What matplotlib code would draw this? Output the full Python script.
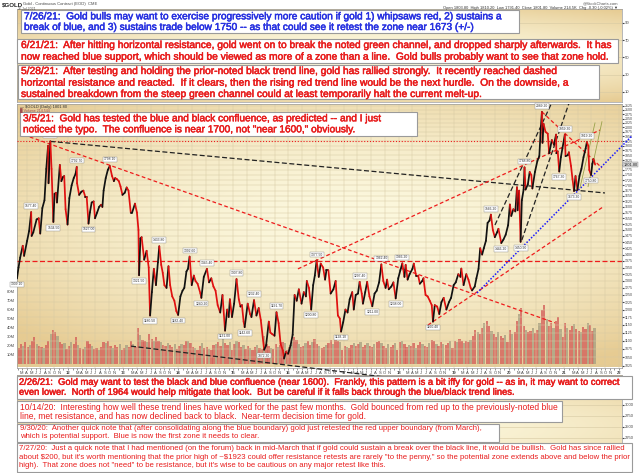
import numpy as np
import pandas as pd
import matplotlib
matplotlib.use("Agg")
import matplotlib.pyplot as plt
import matplotlib.dates as mdates
import matplotlib.patheffects as pe
from matplotlib.collections import LineCollection
from matplotlib.patches import Rectangle
from matplotlib.ticker import FixedLocator, NullLocator

plt.rcParams['font.family'] = ['Liberation Sans', 'DejaVu Sans']

# ------------------------------------------------------------------ data
gold_2011 = [("01-28", 1309), ("02-07", 1350), ("02-18", 1388), ("03-07", 1435), ("03-16", 1395),
             ("04-05", 1455), ("04-18", 1495), ("05-02", 1577), ("05-05", 1475), ("05-16", 1490),
             ("06-07", 1545), ("06-21", 1550), ("07-01", 1485), ("07-15", 1595), ("07-29", 1630),
             ("08-10", 1780), ("08-22", 1900), ("08-25", 1710), ("09-06", 1923), ("09-14", 1780),
             ("09-26", 1534), ("10-04", 1660), ("10-13", 1665), ("10-20", 1620), ("11-08", 1800),
             ("11-18", 1720), ("11-29", 1740), ("12-07", 1745), ("12-16", 1590), ("12-29", 1523)]
gold_2012 = [("01-10", 1640), ("01-25", 1700), ("02-08", 1735), ("02-20", 1755), ("02-28", 1790),
             ("03-01", 1710), ("03-15", 1655), ("03-30", 1670), ("04-12", 1675), ("04-25", 1645),
             ("05-04", 1645), ("05-16", 1527), ("05-25", 1575), ("06-06", 1620), ("06-19", 1625),
             ("06-28", 1550), ("07-12", 1575), ("07-25", 1600), ("08-07", 1610), ("08-16", 1600),
             ("08-24", 1675), ("09-07", 1735), ("09-21", 1775), ("10-04", 1795), ("10-19", 1745),
             ("10-31", 1720), ("11-09", 1735), ("11-20", 1730), ("12-03", 1720), ("12-14", 1695),
             ("12-27", 1655)]
gold_2013 = [("01-11", 1665), ("01-24", 1690), ("02-05", 1675), ("02-20", 1575), ("03-01", 1575),
             ("03-20", 1615), ("04-02", 1575), ("04-12", 1500), ("04-16", 1321), ("04-25", 1465),
             ("05-03", 1470), ("05-20", 1380), ("06-05", 1415), ("06-19", 1350), ("06-28", 1180),
             ("07-10", 1260), ("07-23", 1345), ("08-06", 1285), ("08-19", 1370), ("08-28", 1433),
             ("09-10", 1360), ("09-20", 1330), ("10-01", 1285), ("10-15", 1275), ("10-28", 1355),
             ("11-08", 1285), ("11-22", 1245), ("12-06", 1230), ("12-19", 1195), ("12-31", 1182)]
gold_2014 = [("01-15", 1245), ("01-29", 1265), ("02-10", 1275), ("02-24", 1335), ("03-06", 1345),
             ("03-17", 1392), ("03-31", 1285), ("04-14", 1320), ("04-25", 1300), ("05-09", 1290),
             ("05-28", 1255), ("06-03", 1240), ("06-19", 1315), ("07-10", 1345), ("07-24", 1295),
             ("08-08", 1310), ("08-22", 1280), ("09-05", 1265), ("09-19", 1215), ("10-06", 1190),
             ("10-21", 1250), ("11-07", 1131), ("11-21", 1200), ("12-01", 1175), ("12-09", 1235),
             ("12-23", 1175)]
gold_2015 = [("01-06", 1220), ("01-22", 1307), ("02-06", 1235), ("02-17", 1210), ("02-27", 1215),
             ("03-10", 1160), ("03-17", 1142), ("04-06", 1220), ("04-22", 1185), ("05-01", 1175),
             ("05-18", 1232), ("06-03", 1180), ("06-18", 1205), ("07-02", 1165), ("07-24", 1072),
             ("08-06", 1085), ("08-24", 1160), ("09-03", 1125), ("09-16", 1120), ("10-01", 1115),
             ("10-14", 1191), ("10-28", 1155), ("11-10", 1090), ("11-25", 1070), ("12-03", 1046),
             ("12-15", 1065), ("12-30", 1060)]
gold_2016 = [("01-15", 1085), ("01-29", 1118), ("02-11", 1250), ("02-25", 1230), ("03-10", 1270),
             ("03-28", 1220), ("04-12", 1260), ("04-26", 1245), ("05-02", 1300), ("05-16", 1275),
             ("05-31", 1200), ("06-13", 1285), ("06-24", 1320), ("07-06", 1377), ("07-20", 1315),
             ("08-02", 1365), ("08-18", 1350), ("08-31", 1305), ("09-09", 1340), ("09-22", 1340),
             ("10-07", 1255), ("10-25", 1270), ("11-09", 1300), ("11-24", 1180), ("12-07", 1170),
             ("12-15", 1128), ("12-29", 1158)]
gold_2017 = [("01-13", 1200), ("01-27", 1190), ("02-10", 1235), ("02-27", 1260), ("03-09", 1200),
             ("03-22", 1250), ("04-06", 1255), ("04-17", 1297), ("05-01", 1255), ("05-09", 1220),
             ("05-24", 1260), ("06-06", 1297), ("06-21", 1245), ("07-10", 1211), ("07-25", 1255),
             ("08-08", 1265), ("08-24", 1295), ("09-08", 1362), ("09-21", 1300), ("10-06", 1275),
             ("10-16", 1305), ("10-27", 1270), ("11-13", 1280), ("11-27", 1295), ("12-12", 1238),
             ("12-29", 1310)]
gold_2018 = [("01-12", 1340), ("01-25", 1366), ("02-08", 1315), ("02-16", 1360), ("03-01", 1305),
             ("03-14", 1325), ("04-02", 1345), ("04-11", 1365), ("04-26", 1320), ("05-10", 1320),
             ("05-21", 1290), ("06-06", 1300), ("06-14", 1310), ("06-28", 1250), ("07-12", 1245),
             ("07-26", 1230), ("08-08", 1215), ("08-16", 1160), ("08-28", 1215), ("09-13", 1210),
             ("09-27", 1185), ("10-11", 1225), ("10-26", 1240), ("11-13", 1200), ("11-30", 1225),
             ("12-14", 1240), ("12-31", 1285)]
gold_2019 = [("01-14", 1295), ("01-31", 1325), ("02-14", 1315), ("02-20", 1346), ("03-07", 1285),
             ("03-25", 1325), ("04-08", 1305), ("04-23", 1275), ("05-02", 1266), ("05-20", 1280),
             ("05-31", 1310), ("06-14", 1345), ("06-25", 1425), ("07-08", 1400), ("07-19", 1425),
             ("08-02", 1455), ("08-13", 1530), ("08-26", 1540), ("09-04", 1566), ("09-17", 1500),
             ("09-30", 1470), ("10-15", 1490), ("10-24", 1505), ("11-12", 1446), ("11-26", 1460),
             ("12-11", 1480), ("12-27", 1520)]
gold_2020 = [("01-08", 1611), ("01-17", 1560), ("01-31", 1590), ("02-13", 1580), ("02-24", 1691),
             ("02-28", 1585), ("03-09", 1675), ("03-19", 1451), ("03-27", 1630), ("04-08", 1680),
             ("04-14", 1788), ("04-21", 1680), ("05-06", 1705), ("05-18", 1765), ("05-29", 1750),
             ("06-05", 1685), ("06-22", 1765), ("07-08", 1820), ("07-21", 1845), ("07-29", 1970),
             ("08-07", 2089), ("08-11", 1915), ("08-18", 2020), ("08-31", 1975), ("09-15", 1965),
             ("09-24", 1860), ("10-12", 1930), ("10-26", 1905), ("11-09", 1960), ("11-11", 1860),
             ("11-20", 1870), ("11-30", 1767), ("12-11", 1840), ("12-21", 1885)]
gold_2021 = [("01-06", 1959), ("01-11", 1845), ("01-26", 1850), ("02-02", 1865), ("02-16", 1795),
             ("02-26", 1730), ("03-08", 1673), ("03-18", 1745), ("03-31", 1680), ("04-13", 1745),
             ("04-26", 1780), ("05-10", 1840), ("05-24", 1885), ("06-01", 1919), ("06-10", 1900),
             ("06-17", 1775), ("06-29", 1750), ("07-07", 1805), ("07-15", 1830), ("07-26", 1801.8)]

# semi-monthly volume (millions), starting Feb 2011
volume_2011 = [18, 22, 20, 24, 19, 21, 25, 30, 22, 20, 19, 18, 21, 26, 33, 38, 36, 31, 24, 22, 23, 17]
volume_2012 = [20, 24, 22, 30, 21, 18, 17, 19, 26, 22, 20, 17, 18, 16, 19, 24, 23, 25, 20, 18, 21, 19, 22, 15]
volume_2013 = [18, 21, 19, 26, 22, 19, 40, 32, 27, 25, 24, 33, 28, 26, 30, 25, 24, 21, 20, 23, 21, 19, 22, 17]
volume_2014 = [20, 22, 21, 25, 26, 23, 19, 18, 16, 20, 23, 18, 19, 17, 16, 21, 22, 24, 20, 28, 23, 21, 24, 15]
volume_2015 = [22, 26, 24, 19, 21, 17, 20, 18, 16, 19, 21, 18, 17, 31, 22, 20, 18, 17, 22, 19, 21, 24, 23, 15]
volume_2016 = [19, 24, 30, 27, 22, 19, 20, 23, 25, 21, 24, 28, 22, 20, 18, 19, 21, 23, 27, 22, 30, 26, 24, 16]
volume_2017 = [20, 19, 18, 21, 23, 20, 22, 24, 19, 21, 23, 20, 19, 22, 24, 26, 23, 20, 18, 22, 19, 21, 23, 16]
volume_2018 = [24, 26, 22, 19, 21, 20, 23, 18, 21, 24, 22, 20, 19, 23, 27, 25, 22, 20, 24, 22, 21, 23, 25, 18]
volume_2019 = [26, 24, 28, 25, 23, 26, 24, 27, 31, 38, 35, 33, 40, 45, 48, 42, 37, 33, 30, 35, 31, 29, 32, 24]
volume_2020 = [38, 33, 36, 48, 55, 62, 42, 38, 35, 37, 40, 34, 38, 45, 60, 65, 50, 42, 45, 40, 48, 52, 39, 30]
volume_2021 = [45, 40, 38, 42, 44, 39, 37, 35, 41, 39, 46, 43, 37, 40]

swing_dates = ["2011-01-28", "2011-05-02", "2011-09-06", "2011-09-26", "2012-02-28", "2012-05-16",
               "2012-10-04", "2013-04-16", "2013-06-28", "2013-08-28", "2013-12-31", "2014-03-17",
               "2014-06-03", "2014-07-10", "2014-11-07", "2015-01-22", "2015-03-17", "2015-05-18",
               "2015-07-24", "2015-10-14", "2016-05-31", "2016-07-06", "2016-12-15", "2017-04-17",
               "2017-07-10", "2017-09-08", "2017-12-12", "2018-01-25", "2018-08-16", "2019-09-04",
               "2019-11-12", "2020-03-19", "2020-04-14", "2020-08-07", "2020-11-30", "2021-01-06",
               "2021-03-08", "2021-06-01", "2021-06-29"]
swing_values = [1309.10, 1577.40, 1923.70, 1534.50, 1792.70, 1527.00, 1798.10, 1321.50, 1180.50,
                1433.80, 1182.40, 1392.60, 1240.20, 1345.40, 1131.00, 1307.80, 1142.60, 1232.40,
                1072.30, 1191.70, 1200.80, 1377.50, 1128.10, 1297.40, 1211.00, 1362.40, 1238.00,
                1366.20, 1160.40, 1566.20, 1446.20, 1450.90, 1788.80, 2089.20, 1767.30, 1959.30,
                1673.30, 1919.20, 1750.80]
swing_kinds = ["L", "H", "H", "L", "H", "L", "H", "L", "L", "H", "L", "H", "L", "H", "L", "H", "L",
               "H", "L", "H", "L", "H", "L", "H", "L", "H", "L", "H", "L", "H", "L", "L", "H", "H",
               "L", "H", "L", "H", "L"]

# trend lines (date, price)
black_long = [("2011-09-06", 1923), ("2021-09-29", 1664)]
black_low = [("2013-02-22", 1083), ("2018-10-16", 974)]
black_steep_1 = [("2019-10-01", 1521), ("2020-10-20", 2160)]
black_steep_2 = [("2020-03-27", 1458), ("2021-02-10", 2160)]
red_fall_2011 = [("2011-04-23", 1947), ("2020-11-02", 1156)]
red_rise_2016 = [("2016-03-04", 1345), ("2021-08-27", 1985)]
red_fall_2020 = [("2020-08-07", 2089), ("2021-09-09", 1785)]
red_rise_2018 = [("2018-07-14", 1149), ("2021-09-16", 1600)]
blue_support = [("2019-06-04", 1257), ("2022-03-27", 1953)]
green_channel_1 = [("2021-04-16", 1687), ("2021-07-25", 2025)]
green_channel_2 = [("2021-06-09", 1694), ("2021-09-09", 2032)]
resistance_dotted = 1925
resistance_dashed = 1375
last_price = 1801.80

price_ticks = list(range(1025, 2126, 25))
volume_ticks = [10, 20, 30, 40, 50, 60, 70, 80]
upper_ticks = [10, 30, 50, 70, 90]
lower_ticks = [2250, 2500, 2750, 3000]
month_letters = ["", "", "M", "A", "M", "J", "J", "A", "S", "O", "N", ""]

note_0726 = ["7/26/21:  Gold bulls may want to exercise progressively more caution if gold 1) whipsaws red, 2) sustains a",
             "break of blue, and 3) sustains trade below 1750 -- as that could see it retest the zone near 1673 (+/-)"]
note_0621 = ["6/21/21:  After hitting horizontal resistance, gold went on to break the noted green channel, and dropped sharply afterwards.  It has",
             "now reached blue support, which should be viewed as more of a zone than a line.  Gold bulls probably want to see that zone hold."]
note_0528 = ["5/28/21:  After testing and holding the prior-noted black trend line, gold has rallied strongly.  It recently reached dashed",
             "horizontal resistance and reacted.  If it clears, then the rising red trend line would be the next hurdle.  On the downside, a",
             "sustained breakdown from the steep green channel could at least temporarily halt the current melt-up."]
note_0305 = ["3/5/21:  Gold has tested the blue and black confluence, as predicted -- and I just",
             "noticed the typo.  The confluence is near 1700, not \"near 1600,\" obviously."]
note_0226 = ["2/26/21:  Gold may want to test the black and blue confluence (near 1600).  Frankly, this pattern is a bit iffy for gold -- as in, it may want to correct",
             "even lower.  North of 1964 would help mitigate that look.  But be careful if it falls back through the blue/black trend lines."]
note_1014 = ["10/14/20:  Interesting how well these trend lines have worked for the past few months.  Gold bounced from red up to the previously-noted blue",
             "line, met resistance, and has now declined back to black.  Near-term decision time for gold."]
note_0930 = ["9/30/20:  Another quick note that (after consolidating along the blue boundary) gold just retested the red upper boundary (from March),",
             "which is potential support.  Blue is now the first zone it needs to clear."]
note_0727 = ["7/27/20:  Just a quick note that I had mentioned (on the forum) back in mid-March that if gold could sustain a break over the black line, it would be bullish.  Gold has since rallied",
             "about $200, but it's worth mentioning that the prior high of ~$1923 could offer resistance retests are rarely \"to the penny,\" so the potential zone extends above and below the prior",
             "high).  That zone does not \"need\" to be resistance, but it's wise to be cautious on any major retest like this."]

# ------------------------------------------------------------------ layout helpers
W, H, DPI = 640, 473, 100
fig = plt.figure(figsize=(W / DPI, H / DPI), dpi=DPI)
fig.patch.set_facecolor("white")


def rect_px(l, t, r, b):
    return [l / W, 1 - b / H, (r - l) / W, (b - t) / H]


def gradient_bg(pos, cy=0.5):
    bg = fig.add_axes(pos, zorder=0)
    nx, ny = 240, 160
    X, Y = np.meshgrid(np.linspace(0, 1, nx), np.linspace(0, 1, ny))
    t = np.clip(((X - 0.55) / 0.75) ** 2 + ((Y - cy) / 0.62) ** 2, 0, 1) ** 0.9
    light = np.array([252, 248, 222]) / 255.0
    dark = np.array([230, 203, 146]) / 255.0
    img = light * (1 - t[..., None]) + dark * t[..., None]
    bg.imshow(img, extent=[0, 1, 0, 1], origin="lower", aspect="auto")
    bg.set_xlim(0, 1)
    bg.set_ylim(0, 1)
    bg.axis("off")
    return bg


def dnum(s):
    return mdates.date2num(pd.Timestamp(s))


x0, x1 = dnum("2011-01-28"), dnum("2022-01-20")
SMALL = 3.0
GRIDC = (0.84, 0.79, 0.64)

# ------------------------------------------------------------------ upper indicator panel
pos_up = rect_px(17, 9, 622, 102)
gradient_bg(pos_up)
axu = fig.add_axes(pos_up, zorder=1)
axu.patch.set_visible(False)
axu.set_xlim(x0, x1)
axu.set_ylim(-1.6, 106.2)
axu.yaxis.tick_right()
axu.set_yticks(upper_ticks)
axu.set_yticklabels([str(v) for v in upper_ticks])
axu.tick_params(axis="y", labelsize=SMALL, length=1.2, pad=1, colors="#444444")
axu.set_xticks([])
axu.grid(axis="y", color=GRIDC, lw=0.4)
for s in axu.spines.values():
    s.set_color("#9a9a9a")
    s.set_linewidth(0.5)

# ------------------------------------------------------------------ price panel
pos_pr = rect_px(17, 104, 622, 367.5)
gradient_bg(pos_pr, cy=0.55)

# volume axes (behind price)
axv = fig.add_axes(pos_pr, zorder=1)
axv.patch.set_visible(False)
volumes = (volume_2011 + volume_2012 + volume_2013 + volume_2014 + volume_2015 + volume_2016
           + volume_2017 + volume_2018 + volume_2019 + volume_2020 + volume_2021)
vdates = mdates.date2num(pd.date_range("2011-02-01", periods=len(volumes), freq="SMS"))
vcols = ["#d4615b" if i % 3 != 2 else "#a9a183" for i in range(len(volumes))]
axv.bar(vdates, volumes, width=15.2, align="edge", color=vcols, alpha=0.8, linewidth=0)
axv.set_xlim(x0, x1)
axv.set_ylim(-3.9, 288.9)
axv.set_yticks(volume_ticks)
axv.set_yticklabels([f"{v}M" for v in volume_ticks])
axv.tick_params(axis="y", labelsize=SMALL, length=0, pad=1.5, colors="#444444")
axv.set_xticks([])
for s in axv.spines.values():
    s.set_visible(False)

ax = fig.add_axes(pos_pr, zorder=2)
ax.patch.set_visible(False)
ax.set_yscale("log")
ax.set_xlim(x0, x1)
ax.set_ylim(1020, 2135.5)
ax.yaxis.tick_right()
ax.yaxis.set_major_locator(FixedLocator(price_ticks))
ax.yaxis.set_minor_locator(NullLocator())
ax.set_yticklabels(["" if abs(v - last_price) < 15 else str(v) for v in price_ticks])
ax.tick_params(axis="y", labelsize=2.6, length=1.2, pad=1, colors="#444444")
ax.grid(axis="y", color=GRIDC, lw=0.35, zorder=0)
for s in ax.spines.values():
    s.set_color("#9a9a9a")
    s.set_linewidth(0.5)

months = pd.date_range("2011-02-01", "2022-01-01", freq="MS")
mlabels = [f"{m.year % 100:02d}" if m.month == 1 else month_letters[m.month - 1] for m in months]
ax.set_xticks(mdates.date2num(months))
ax.set_xticklabels(mlabels)
ax.tick_params(axis="x", labelsize=SMALL, length=1.5, pad=0.8, colors="#444444", width=0.4)
for lbl in ax.get_xticklabels():
    if lbl.get_text().isdigit():
        lbl.set_fontweight("bold")
for m in months:
    if m.month in (1, 4, 7, 10):
        ax.axvline(mdates.date2num(m), color=GRIDC, lw=0.35, zorder=0)

# price line
all_dates, prices = [], []
for yr, lst in [(2011, gold_2011), (2012, gold_2012), (2013, gold_2013), (2014, gold_2014),
                (2015, gold_2015), (2016, gold_2016), (2017, gold_2017), (2018, gold_2018),
                (2019, gold_2019), (2020, gold_2020), (2021, gold_2021)]:
    for md, p in lst:
        all_dates.append(f"{yr}-{md}")
        prices.append(p)
pd_num = mdates.date2num(pd.to_datetime(all_dates))
pts = np.column_stack([pd_num, prices])
segs = np.stack([pts[:-1], pts[1:]], axis=1)
scol = ["#111111" if b >= a else "#e01010" for a, b in zip(prices[:-1], prices[1:])]
ax.add_collection(LineCollection(segs, colors=scol, linewidths=1.25, zorder=5,
                                 capstyle="round", joinstyle="round"))

# horizontal levels
ax.axhline(resistance_dotted, color="#ee1c1c", lw=0.8, ls=(0, (1, 1.6)), zorder=3)
ax.axhline(resistance_dashed, color="#ee1c1c", lw=0.9, ls=(0, (4, 2)), zorder=3)


def tline(pts2, color, ls, lw=0.9, clip=True):
    xs = [dnum(d) for d, _ in pts2]
    ys = [p for _, p in pts2]
    ax.plot(xs, ys, color=color, ls=ls, lw=lw, zorder=4, clip_on=clip)


tline(black_long, "#222222", (0, (4, 2)))
tline(black_low, "#222222", (0, (4, 2)), clip=False)
tline(black_steep_1, "#222222", (0, (4, 2)))
tline(black_steep_2, "#222222", (0, (4, 2)))
tline(red_fall_2011, "#ee1c1c", (0, (3, 2)))
tline(red_rise_2016, "#ee1c1c", (0, (3, 2)))
tline(red_fall_2020, "#ee1c1c", (0, (3, 2)))
tline(red_rise_2018, "#ee1c1c", (0, (3, 2)))
tline(blue_support, "#1a1aff", (0, (1, 1.1)), lw=1.1, clip=False)
tline(green_channel_1, "#9aa24a", "-", lw=0.6)
tline(green_channel_2, "#9aa24a", "-", lw=0.6)

# swing labels
for d, v, k in zip(swing_dates, swing_values, swing_kinds):
    off = 4.2 if k == "H" else -4.2
    ax.annotate(f"{v:.2f}", (dnum(d), v), xytext=(0, off), textcoords="offset points",
                ha="center", va="center", fontsize=2.4, color="#333333", zorder=6,
                bbox=dict(boxstyle="square,pad=0.25", fc="white", ec="#8a8a8a", lw=0.3))

# last price tag
ax.annotate(f"{last_price:.2f}", (1.0, last_price), xycoords=("axes fraction", "data"),
            xytext=(1, 0), textcoords="offset points", ha="left", va="center", fontsize=2.8,
            color="#222222", zorder=7, annotation_clip=False,
            bbox=dict(boxstyle="square,pad=0.2", fc="#d8d8d8", ec="#888888", lw=0.3))

# ------------------------------------------------------------------ lower panel
pos_lo = rect_px(17, 375, 622, 480)
gradient_bg(pos_lo)
axl = fig.add_axes(pos_lo, zorder=1)
axl.patch.set_visible(False)
axl.set_xlim(x0, x1)
axl.set_ylim(1295, 3682)
axl.yaxis.tick_right()
axl.set_yticks(lower_ticks)
axl.set_yticklabels([str(v) for v in lower_ticks])
axl.tick_params(axis="y", labelsize=SMALL, length=1.2, pad=1, colors="#444444")
axl.set_xticks([])
axl.grid(axis="y", color=GRIDC, lw=0.4)
for s in axl.spines.values():
    s.set_color("#9a9a9a")
    s.set_linewidth(0.5)

# ------------------------------------------------------------------ overlay (texts + note boxes)
ov = fig.add_axes([0, 0, 1, 1], zorder=10)
ov.set_xlim(0, W)
ov.set_ylim(H, 0)
ov.axis("off")
ov.patch.set_visible(False)

ov.text(2, 4.5, "$GOLD", fontsize=4.4, fontweight="bold", color="#222222", va="center",
        parse_math=False)
ov.text(23, 4.5, "Gold - Continuous Contract (EOD)  CME", fontsize=3.0, color="#444444",
        va="center", parse_math=False)
ov.text(18, 9.0, "26-Jul-2021", fontsize=2.5, color="#555555", va="center")
ov.text(618, 3.2, "@StockCharts.com", fontsize=3.0, color="#555555", va="center", ha="right")
ov.text(618, 8.0, "Open 1803.80  High 1810.20  Low 1791.40  Close 1801.80  Volume 214.5K  Chg -0.30 (-0.02%) \u25bc",
        fontsize=2.9, color="#333333", va="center", ha="right")
ov.text(20, 106.5, "\u2014 $GOLD (Daily) 1801.80", fontsize=2.9, color="#333333", va="center",
        parse_math=False)
ov.text(20, 110.5, "\u2588 Volume 214,544", fontsize=2.6, color="#a05050", va="center")

RED = "#e81c1c"
BLUE = "#2630e0"
# (lines, color, left, top, right, bottom, text_x, line_ys, fit_line, fit_end_x, heavy)
notes_layout = [
    (note_0726, BLUE, 20.5, 10.0, 519, 33.3, 24, [16.3, 27.0], 0, 503, True),
    (note_0621, RED, 17, 39.0, 618, 63.0, 21, [45.0, 56.7], 0, 613.5, True),
    (note_0528, RED, 18, 65.0, 599, 99.3, 21, [71.0, 82.7, 94.0], 1, 570.5, True),
    (note_0305, RED, 20, 111.7, 417, 136.0, 23, [118.3, 129.3], 0, 382, True),
    (note_0226, RED, 16.5, 376.0, 632, 399.3, 19, [382.3, 392.3], 0, 622, True),
    (note_1014, RED, 17, 401.0, 562, 422.3, 20, [407.3, 416.7], 0, 558, False),
    (note_0930, RED, 17, 423.7, 499, 441.7, 20, [428.3, 436.7], 0, 485, False),
    (note_0727, RED, 17, 443.3, 632, 471.7, 19, [448.3, 457.0, 465.7], 0, 628, False),
]

renderer = fig.canvas.get_renderer()
for lines, col, l, t, r, b, tx, lys, fl, fx, heavy in notes_layout:
    ov.add_patch(Rectangle((l, t), r - l, b - t, facecolor="white", edgecolor="#9a9a9a",
                           lw=0.8, zorder=1))
    probe = ov.text(0, 0, lines[fl], fontsize=10)
    wpx = probe.get_window_extent(renderer).width
    probe.remove()
    fs = 10 * (fx - tx) / wpx
    effects = [pe.withStroke(linewidth=0.35, foreground=col)] if heavy else None
    for ln, y in zip(lines, lys):
        ov.text(tx, y, ln, fontsize=fs, color=col, va="center", ha="left", zorder=2,
                parse_math=False, path_effects=effects)

fig.savefig("out.png", dpi=DPI)
